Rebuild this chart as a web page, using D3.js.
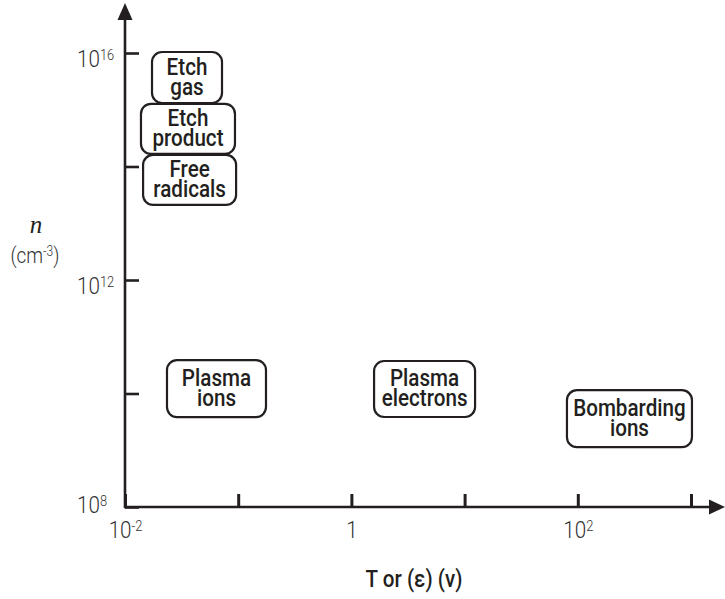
<!DOCTYPE html>
<html>
<head>
<meta charset="utf-8">
<script src="https://cdn.jsdelivr.net/npm/d3@7"></script>
<style>
  html, body { margin: 0; padding: 0; background: #fff; }
  svg { display: block; }
</style>
</head>
<body>
<svg id="chart" width="725" height="599"></svg>
<script>
// ---------- data ----------
const categories = ["Etch gas", "Etch product", "Free radicals", "Plasma ions", "Plasma electrons", "Bombarding ions"];
const labelLines = [["Etch", "gas"], ["Etch", "product"], ["Free", "radicals"], ["Plasma", "ions"], ["Plasma", "electrons"], ["Bombarding", "ions"]];
const tValues = [0.0353, 0.036, 0.0372, 0.0643, 4.43, 286];      // T or (ε) (ν)
const nValues = [3.7e15, 4.6e14, 5.8e13, 1.22e10, 1.2e10, 3.6e9]; // n (cm^-3)
const xTickValues = [1e-2, 1e-1, 1, 1e1, 1e2, 1e3];
const xTickLabels = ["10^-2", "", "1", "", "10^2", ""];
const yTickValues = [1e8, 1e10, 1e12, 1e14, 1e16];
const yTickLabels = ["10^8", "", "10^12", "", "10^16"];

// ---------- layout ----------
const boxSizes = [[70, 51], [94, 50], [93, 50], [99, 57], [101, 56], [125, 57]];
const ink = "#231f20";
const SX = 0.86; // horizontal condensing to mimic a condensed face
const FONT = "Roboto, 'Liberation Sans', sans-serif";

const svg = d3.select("#chart");
const x = d3.scaleLog().domain([1e-2, 1e3]).range([125, 691]);
const y = d3.scaleLog().domain([1e8, 1e16]).range([507, 53]);

const x0 = x.range()[0], y0 = y.range()[0];

// axis lines with arrows
svg.append("line").attr("x1", x0).attr("y1", y0 + 1).attr("x2", x0).attr("y2", 18)
  .attr("stroke", ink).attr("stroke-width", 2.6);
svg.append("path").attr("d", `M${x0},3 L${x0 - 7.5},20 L${x0 + 7.5},20 Z`).attr("fill", ink);
svg.append("line").attr("x1", x0 - 1).attr("y1", y0).attr("x2", 712).attr("y2", y0)
  .attr("stroke", ink).attr("stroke-width", 2.6);
svg.append("path").attr("d", `M725,${y0} L709,${y0 - 7.5} L709,${y0 + 7.5} Z`).attr("fill", ink);

function setPowerLabel(sel, label, supSize) {
  sel.text(null);
  if (!label) return;
  const parts = label.split("^");
  sel.append("tspan").text(parts[0]);
  if (parts.length > 1) {
    sel.append("tspan").attr("dy", -7).attr("font-size", supSize).text(parts[1]);
  }
}

// y axis
const yAxis = d3.axisLeft(y).tickValues(yTickValues).tickSizeInner(-14).tickSizeOuter(0)
  .tickFormat((d, i) => yTickLabels[i]);
const gy = svg.append("g").attr("transform", `translate(${x0},0)`).call(yAxis);
gy.select(".domain").remove();
gy.selectAll(".tick line").attr("stroke", ink).attr("stroke-width", 2.6);
gy.selectAll(".tick text")
  .attr("font-family", FONT)
  .attr("font-weight", 300).attr("font-size", 24).attr("fill", "#333")
  .attr("text-anchor", "start").attr("x", -48 / SX)
  .attr("transform", `scale(${SX},1)`)
  .attr("dy", null)
  .attr("y", (d, i) => i === 0 ? 5 : 13.5)
  .each(function (d, i) { setPowerLabel(d3.select(this), yTickLabels[i], 15); });

// x axis
const xAxis = d3.axisBottom(x).tickValues(xTickValues).tickSizeInner(-13).tickSizeOuter(0)
  .tickFormat((d, i) => xTickLabels[i]);
const gx = svg.append("g").attr("transform", `translate(0,${y0})`).call(xAxis);
gx.select(".domain").remove();
gx.selectAll(".tick line").attr("stroke", ink).attr("stroke-width", 3);
gx.selectAll(".tick text")
  .attr("font-family", FONT)
  .attr("font-weight", 300).attr("font-size", 24).attr("fill", "#333")
  .attr("text-anchor", "middle").attr("dy", null).attr("y", 31)
  .attr("transform", `scale(${SX},1)`)
  .each(function (d, i) { setPowerLabel(d3.select(this), xTickLabels[i], 15); });

// axis titles
svg.append("text").attr("x", 36).attr("y", 233).attr("text-anchor", "middle")
  .attr("font-family", "'Liberation Serif', 'DejaVu Serif', serif").attr("font-style", "italic")
  .attr("font-size", 25).attr("fill", ink).text("n");
const cm = svg.append("text").attr("x", 35 / SX).attr("y", 263).attr("text-anchor", "middle")
  .attr("transform", `scale(${SX},1)`)
  .attr("font-family", FONT).attr("font-weight", 300)
  .attr("font-size", 22).attr("fill", "#333");
cm.append("tspan").text("(cm");
cm.append("tspan").attr("dy", -7).attr("font-size", 14).text("-3");
cm.append("tspan").attr("dy", 7).text(")");

svg.append("text").attr("x", 414 / SX).attr("y", 587).attr("text-anchor", "middle")
  .attr("transform", `scale(${SX},1)`)
  .attr("font-family", FONT).attr("font-weight", 500)
  .attr("font-size", 24).attr("fill", ink).text("T or (ε) (ν)");

// boxes
const boxes = svg.append("g").selectAll("g").data(categories).join("g")
  .attr("transform", (d, i) => `translate(${x(tValues[i])},${y(nValues[i])})`);
boxes.append("rect")
  .attr("x", (d, i) => -boxSizes[i][0] / 2).attr("y", (d, i) => -boxSizes[i][1] / 2)
  .attr("width", (d, i) => boxSizes[i][0]).attr("height", (d, i) => boxSizes[i][1])
  .attr("rx", 10).attr("ry", 10)
  .attr("fill", "#fff").attr("stroke", ink).attr("stroke-width", 2.2);
boxes.each(function (d, i) {
  const g = d3.select(this);
  labelLines[i].forEach((line, j) => {
    g.append("text")
      .attr("text-anchor", "middle")
      .attr("transform", `scale(${SX},1)`)
      .attr("font-family", FONT)
      .attr("font-weight", 500).attr("font-size", 24).attr("fill", ink)
      .attr("x", 0).attr("y", j === 0 ? -3 : 17).text(line);
  });
});
</script>
</body>
</html>
